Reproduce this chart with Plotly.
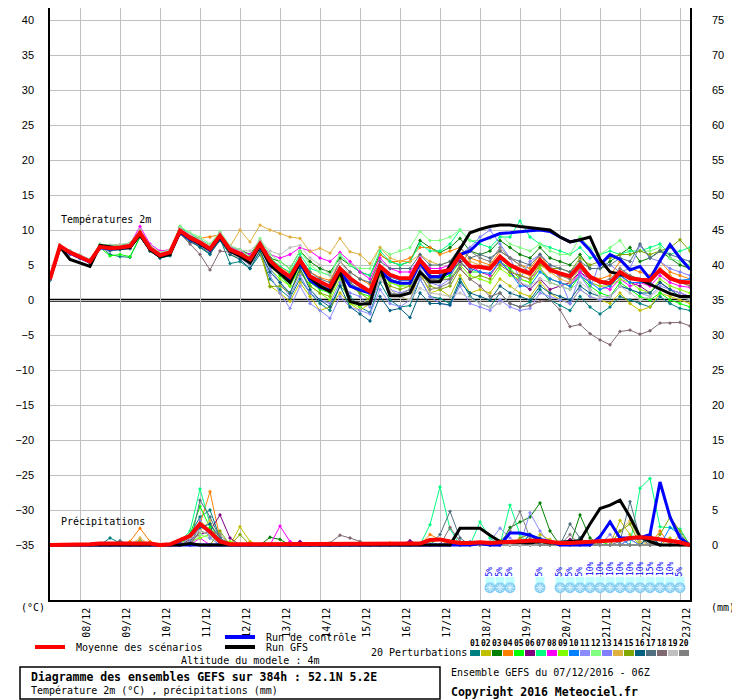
import plotly.graph_objects as go

MONO = "DejaVu Sans Mono"
SANS = "Liberation Sans"

# forecast steps (hours after 07/12/2016 06Z), 6-hourly out to 384h
HOURS = list(range(0, 385, 6))
DAY_TICKS = list(range(18, 384, 24))
DAY_LABELS = ["08/12", "09/12", "10/12", "11/12", "12/12", "13/12", "14/12", "15/12",
              "16/12", "17/12", "18/12", "19/12", "20/12", "21/12", "22/12", "23/12"]

# --- 2m temperature (degC) ---
MEAN_T = [3.0, 7.7, 6.8, 6.2, 5.5, 7.6, 7.4, 7.5, 7.7, 9.6,
          7.4, 6.4, 6.8, 9.9, 8.9, 8.2, 7.3, 9.2, 7.2, 6.6,
          5.8, 8.0, 5.6, 4.3, 3.3, 5.7, 3.4, 2.6, 1.9, 4.5,
          3.1, 2.1, 1.2, 4.8, 3.6, 3.1, 3.1, 5.7, 4.0, 4.0,
          4.3, 6.4, 4.8, 4.7, 4.5, 6.2, 5.0, 4.3, 3.8, 5.7,
          4.3, 3.8, 3.4, 5.0, 3.3, 2.6, 2.4, 4.0, 3.1, 2.9,
          2.8, 4.3, 3.1, 2.6, 2.5]
GFS_T = [3.0, 7.6, 5.8, 5.3, 4.8, 7.8, 7.6, 7.4, 7.5, 9.3,
         7.2, 6.2, 6.5, 9.8, 8.8, 8.0, 7.2, 9.0, 7.0, 6.3,
         5.3, 7.8, 5.0, 3.8, 2.5, 5.5, 3.2, 2.0, 1.2, 4.0,
         -0.2, -0.6, -0.5, 4.6, 0.6, 0.6, 1.0, 4.0, 2.6, 2.6,
         5.0, 7.4, 9.6, 10.1, 10.5, 10.7, 10.7, 10.5, 10.3, 10.2,
         10.0, 9.0, 8.3, 8.6, 9.0, 5.8, 4.0, 3.7, 3.2, 2.9,
         2.2, 1.5, 0.9, 0.5, 0.5]
CTRL_T = [3.0, 7.6, 6.7, 6.1, 5.4, 7.5, 7.3, 7.4, 7.6, 9.4,
          7.3, 6.3, 6.7, 9.7, 8.7, 8.0, 7.1, 9.0, 7.0, 6.4,
          5.5, 7.8, 5.2, 3.9, 2.8, 5.3, 2.8, 1.8, 1.4, 4.2,
          2.0, 1.4, 1.0, 4.3, 2.8, 2.4, 2.4, 5.3, 3.3, 3.3,
          4.0, 6.5, 7.0, 8.4, 8.9, 9.5, 9.6, 9.8, 9.9, 10.0,
          9.8, 9.0, 8.3, 8.6, 7.1, 5.0, 6.5, 5.8, 4.3, 4.8,
          3.0, 5.6, 7.9, 6.0, 4.4]

P01_T = [2.8, 7.5, 6.6, 6.0, 5.4, 7.8, 6.5, 6.2, 6.1, 9.0, 7.0, 6.0, 6.3, 9.5, 8.5, 7.5, 6.5, 8.8, 5.2, 5.5,
         4.5, 6.5, 3.0, 1.5, 0.3, 3.0, 1.0, -0.5, -1.5, 2.0, 0.5, -1.0, -1.8, 2.5, 0.0, -1.0, -0.8, 3.0, 0.5, 0.2,
         -0.5, 3.0, 0.5, -0.5, -1.0, 1.0, -0.5, -1.0, -0.3, 1.5, 0.0, -0.8, -1.5, 0.5, -1.0, -2.0, -1.0, 0.5, 0.0, -0.5,
         -1.0, 0.5, -0.5, -1.2, -1.5]
P02_T = [3.0, 7.6, 6.7, 6.0, 5.3, 7.3, 7.0, 7.2, 7.3, 9.2, 7.0, 6.1, 6.5, 9.5, 8.4, 7.6, 6.8, 8.6, 6.5, 6.0,
         5.0, 6.8, 2.0, 1.0, -0.2, 2.5, 0.5, -1.5, -1.0, 1.0, -0.5, -1.5, -0.5, 3.0, 1.5, 0.5, 0.0, 4.0, 1.0, 1.5,
         0.5, 3.5, 1.0, 1.5, 1.0, 3.0, 2.0, 1.0, 0.5, 2.5, 1.0, 0.0, -0.5, 1.5, 0.5, 0.0, -0.5, 1.0, -0.5, -1.5,
         -1.0, 1.0, 0.5, 0.0, -0.5]
P03_T = [3.1, 7.8, 7.0, 6.4, 5.8, 7.9, 7.8, 7.9, 8.0, 9.8, 7.6, 6.7, 7.0, 10.5, 9.2, 8.6, 7.8, 9.5, 7.6, 7.2,
         6.5, 8.5, 6.0, 5.5, 4.5, 7.0, 5.5, 4.5, 4.0, 6.0, 5.0, 4.0, 3.5, 6.5, 5.5, 5.0, 5.5, 8.5, 7.5, 6.8,
         7.5, 8.8, 7.0, 6.5, 7.0, 8.5, 7.5, 6.5, 6.0, 7.5, 6.0, 5.5, 5.0, 6.5, 4.5, 4.5, 5.5, 6.5, 7.5, 5.5,
         6.0, 7.0, 6.0, 5.0, 4.5]
P04_T = [3.0, 7.7, 6.9, 6.3, 5.6, 7.7, 7.6, 7.7, 7.8, 9.7, 7.5, 6.5, 6.9, 10.0, 9.3, 8.8, 9.0, 9.3, 7.5, 6.8,
         6.0, 8.3, 6.0, 4.8, 3.8, 6.0, 4.0, 3.2, 2.8, 5.5, 4.0, 3.0, 2.2, 6.5, 5.5, 5.5, 6.0, 7.5, 7.5, 6.5,
         7.0, 7.5, 6.0, 5.5, 5.0, 7.0, 6.0, 5.0, 4.5, 6.5, 4.5, 3.5, 3.0, 5.5, 3.5, 3.0, 3.5, 5.5, 4.5, 4.0,
         3.5, 5.5, 4.0, 3.5, 3.0]
P05_T = [3.0, 7.6, 6.7, 6.1, 5.5, 7.5, 6.3, 6.5, 6.2, 9.0, 7.2, 6.3, 6.8, 10.2, 9.1, 8.3, 7.5, 9.4, 7.3, 6.7,
         5.5, 7.5, 5.0, 3.5, 2.0, 5.0, 2.5, 1.5, 1.0, 4.0, 2.5, 1.0, 0.5, 4.5, 2.5, 2.0, 2.5, 5.5, 3.5, 3.0,
         3.5, 5.5, 4.0, 4.0, 3.5, 5.5, 4.5, 3.0, 2.5, 4.5, 2.5, 2.0, 1.5, 3.5, 2.0, 1.0, 0.5, 2.5, 1.5, 0.5,
         0.0, 1.0, 0.0, -0.5, -1.0]
P06_T = [3.0, 7.7, 6.8, 6.2, 5.5, 7.6, 7.4, 7.6, 7.8, 9.6, 7.4, 6.4, 6.8, 9.8, 8.8, 8.1, 7.2, 9.0, 7.0, 6.5,
         5.5, 7.8, 5.5, 4.0, 3.0, 5.5, 3.0, 2.0, 1.5, 4.5, 3.0, 2.0, 1.0, 4.5, 3.5, 3.0, 3.0, 5.5, 3.5, 3.5,
         4.0, 5.5, 4.0, 5.0, 4.5, 5.5, 4.0, 2.5, 1.5, 3.0, 1.5, 2.0, 2.5, 4.0, 3.0, 2.5, 2.0, 3.5, 2.5, 2.0,
         1.0, 2.5, 1.5, 1.0, 0.5]
P07_T = [3.0, 7.8, 7.0, 6.4, 5.7, 7.9, 7.7, 7.8, 8.0, 9.9, 7.6, 6.6, 7.0, 10.4, 9.5, 8.7, 7.8, 9.6, 7.6, 7.0,
         6.0, 8.5, 6.0, 4.8, 4.0, 6.5, 4.5, 4.0, 3.5, 6.5, 5.0, 4.0, 3.5, 7.0, 5.5, 5.0, 5.5, 8.0, 7.0, 7.0,
         8.0, 10.0, 8.5, 8.0, 7.5, 9.0, 9.0, 11.3, 9.0, 8.0, 7.5, 7.0, 6.5, 7.5, 6.0, 6.5, 7.0, 6.5, 7.0, 7.0,
         7.5, 8.0, 6.5, 7.0, 7.5]
P08_T = [3.0, 7.8, 6.9, 6.3, 5.6, 7.8, 7.5, 7.6, 8.0, 10.5, 8.0, 7.0, 7.2, 10.3, 9.2, 8.3, 7.4, 9.0, 7.5, 6.9,
         6.5, 8.0, 6.5, 6.0, 6.5, 7.5, 7.0, 6.0, 5.5, 6.8, 5.5, 4.0, 3.0, 6.0, 4.5, 4.0, 4.0, 6.0, 4.5, 4.5,
         5.0, 6.5, 5.0, 4.0, 3.5, 5.5, 4.0, 3.5, 3.0, 4.5, 3.0, 2.5, 2.0, 4.0, 2.5, 2.0, 1.5, 3.0, 2.0, 2.5,
         2.0, 3.5, 2.5, 2.0, 1.8]
P09_T = [3.0, 7.6, 6.7, 6.1, 5.5, 7.5, 7.2, 7.3, 7.5, 9.4, 7.3, 6.3, 6.7, 9.7, 8.8, 8.0, 7.1, 9.0, 7.0, 6.3,
         5.0, 7.5, 4.5, 3.0, 2.0, 4.5, 2.0, 1.0, 0.0, 3.0, -0.5, -1.0, 0.5, 3.5, 2.5, 2.0, 2.0, 5.0, 3.0, 3.0,
         3.0, 5.0, 3.5, 3.0, 2.5, 4.5, 3.5, 3.0, 2.5, 4.5, 3.0, 2.5, 2.0, 3.5, 2.5, 2.0, 2.0, 3.0, 2.5, 1.5,
         1.0, 3.0, 2.0, 1.5, 1.0]
P10_T = [3.0, 7.7, 6.8, 6.2, 5.5, 7.6, 7.3, 7.4, 7.6, 9.5, 7.3, 6.3, 6.7, 9.8, 8.8, 8.1, 7.2, 9.1, 7.1, 6.5,
         5.7, 7.8, 5.3, 4.0, 3.0, 5.5, 3.2, 2.3, 1.5, 4.2, 2.8, 1.8, 1.0, 4.5, 3.3, 2.8, 2.8, 5.5, 3.8, 3.8,
         4.0, 6.0, 4.5, 4.0, 3.8, 5.5, 4.0, 2.0, 2.0, 4.0, 3.0, 2.5, 2.0, 3.5, 2.5, 1.5, 2.0, 3.5, 2.5, 2.5,
         2.5, 4.0, 3.0, 2.8, 3.0]
P11_T = [2.9, 7.5, 6.5, 5.9, 5.3, 7.3, 7.0, 7.2, 7.3, 9.2, 7.1, 6.2, 6.5, 9.5, 8.5, 7.8, 6.9, 8.8, 6.8, 6.0,
         5.0, 7.0, 3.5, 1.0, -1.2, 2.0, -0.5, -1.5, -2.6, 0.5, -1.0, -1.5, -2.0, 1.5, -0.5, -1.0, 0.0, 3.0, 0.5, -0.5,
         -0.8, 2.0, -0.5, -1.0, -1.5, 0.0, -1.0, -1.5, -1.2, 1.0, 0.5, 0.0, -0.5, 1.5, 0.5, 0.0, 0.5, 2.0, 1.5, 1.0,
         0.5, 2.0, 1.5, 1.0, 0.5]
P12_T = [3.0, 7.8, 7.0, 6.4, 5.8, 8.0, 7.8, 7.9, 8.2, 10.0, 7.8, 6.8, 7.2, 10.5, 9.6, 9.0, 8.0, 9.8, 7.8, 7.2,
         6.2, 8.8, 6.5, 5.5, 4.5, 7.0, 5.0, 4.0, 3.5, 6.5, 5.0, 4.5, 4.5, 7.5, 6.5, 7.0, 7.5, 9.8, 8.5, 8.5,
         9.0, 10.0, 8.5, 8.5, 8.8, 9.5, 8.0, 7.5, 7.0, 8.0, 7.0, 6.5, 6.5, 9.0, 7.5, 6.5, 7.5, 8.5, 6.5, 7.0,
         7.0, 7.5, 6.0, 5.5, 5.0]
P13_T = [3.0, 7.6, 6.8, 6.2, 5.5, 7.6, 7.4, 7.5, 7.7, 9.5, 7.4, 6.4, 6.8, 9.9, 8.9, 8.2, 7.3, 9.2, 7.2, 6.6,
         5.5, 7.5, 4.5, 2.5, 0.5, 3.5, 1.0, 0.0, -0.5, 2.5, 1.0, 0.5, -1.0, 3.0, 1.5, 1.0, 1.5, 4.5, 2.5, 2.0,
         3.0, 6.5, 7.5, 9.0, 10.0, 8.0, 6.0, 3.0, 5.5, 6.5, 5.0, 3.0, -0.5, 3.5, 1.5, 5.5, 5.0, 4.0, 4.5, 7.8,
         6.0, 5.5, 4.5, 4.0, 3.5]
P14_T = [3.0, 7.7, 6.8, 6.3, 5.6, 7.7, 7.6, 7.7, 7.9, 9.7, 7.5, 6.6, 7.0, 10.0, 9.0, 8.5, 7.6, 9.3, 7.6, 10.0,
         8.3, 10.7, 10.0, 9.5, 9.0, 8.8, 6.9, 7.4, 6.7, 8.8, 6.9, 6.5, 5.2, 7.5, 6.0, 5.5, 5.5, 6.5, 5.5, 5.0,
         5.5, 7.5, 5.5, 5.0, 4.5, 6.0, 5.0, 4.0, 3.5, 5.0, 4.0, 3.0, 2.5, 4.5, 3.0, 2.5, 2.5, 4.5, 3.5, 3.0,
         3.0, 4.5, 3.5, 2.5, 2.0]
P15_T = [3.0, 7.6, 6.7, 6.1, 5.4, 7.5, 7.3, 7.4, 7.6, 9.4, 7.2, 6.2, 6.6, 9.7, 8.7, 8.0, 7.1, 9.0, 7.0, 6.4,
         5.3, 7.5, 1.9, 2.0, 1.0, 4.0, 2.0, 1.0, 0.5, 3.5, 2.0, 1.0, 0.0, 3.5, 2.0, 1.5, 2.0, 4.0, 2.0, 1.5,
         2.0, 4.5, 3.0, 3.5, 3.0, 5.0, 4.0, 3.5, 3.0, 5.0, 4.5, 4.5, 4.0, 6.0, 5.0, 5.5, 6.0, 6.5, 6.5, 7.0,
         6.5, 7.0, 7.5, 8.6, 7.0]
P16_T = [2.9, 7.5, 6.6, 6.0, 5.3, 7.4, 7.1, 7.2, 7.4, 9.2, 7.0, 6.0, 6.4, 9.4, 8.3, 7.6, 6.6, 8.5, 6.5, 5.8,
         4.5, 7.0, 4.0, 2.5, 1.0, 4.5, 1.5, 0.0, -1.0, 2.0, -1.0, -2.0, -3.0, 0.5, -1.5, -1.2, -2.5, 1.0, -0.5, -0.5,
         -0.7, 2.5, 1.0, 0.5, 0.0, 2.0, 1.0, 0.5, 0.0, 2.0, 1.0, 0.5, 0.0, 2.0, 1.0, 0.5, 0.5, 2.0, 1.5, 1.0,
         1.0, 2.5, 1.5, 0.5, 0.0]
P17_T = [3.0, 7.7, 6.9, 6.3, 5.6, 7.7, 7.5, 7.6, 7.8, 9.7, 7.5, 6.5, 6.9, 10.0, 9.0, 8.3, 7.4, 9.3, 7.3, 6.7,
         6.0, 8.2, 6.0, 4.5, 3.5, 6.0, 4.0, 3.0, 2.5, 5.5, 4.0, 3.0, 2.5, 5.5, 4.5, 4.5, 4.5, 6.5, 5.0, 5.0,
         5.5, 7.5, 6.0, 6.5, 6.0, 7.0, 6.0, 5.5, 5.0, 6.5, 5.0, 4.5, 4.0, 5.5, 4.5, 4.5, 5.0, 6.0, 5.5, 8.0,
         6.0, 7.0, 6.5, 6.0, 5.5]
P18_T = [3.0, 7.6, 6.8, 6.2, 5.5, 7.5, 7.3, 7.4, 7.6, 9.3, 7.2, 6.2, 6.6, 9.5, 8.0, 6.5, 4.3, 7.0, 6.8, 6.2,
         5.5, 7.5, 5.0, 3.8, 2.8, 5.0, 3.0, 2.0, 1.5, 4.0, 2.5, 1.5, 0.8, 4.0, 3.0, 2.5, 2.5, 5.0, 3.0, 2.8,
         3.0, 4.5, 3.0, 2.0, 0.5, 1.0, -0.5, -1.0, -0.8, -0.2, 0.0, -1.4, -3.8, -3.5, -4.8, -5.7, -6.4, -4.5, -4.3, -4.9,
         -4.4, -3.3, -3.3, -3.2, -3.7]
P19_T = [3.1, 7.8, 7.0, 6.5, 5.8, 7.9, 7.8, 7.9, 8.1, 9.9, 7.7, 6.7, 7.1, 10.2, 9.4, 8.7, 7.8, 9.6, 7.7, 7.1,
         7.0, 8.5, 7.0, 6.5, 7.5, 7.8, 6.0, 5.0, 3.5, 5.5, 3.5, 2.0, 1.0, 3.0, 1.5, 0.5, 0.0, 1.7, 1.0, 0.8,
         0.5, 1.0, 0.3, -0.5, -1.0, -0.5, 0.5, 2.5, 2.0, 3.0, 2.5, 2.0, 1.5, 2.5, 1.5, 0.5, 0.5, 2.0, 1.0, 0.0,
         0.5, 1.5, 1.0, 0.5, 0.0]
P20_T = [3.0, 7.7, 6.8, 6.2, 5.5, 7.6, 7.4, 7.5, 7.7, 9.6, 7.4, 6.4, 6.8, 9.9, 8.9, 8.2, 7.3, 9.2, 7.2, 6.6,
         5.8, 8.0, 5.6, 4.3, 3.3, 5.7, 3.4, 2.6, 1.9, 4.5, 3.1, 2.1, 1.2, 4.8, 1.0, 0.8, 1.5, 3.5, 1.5, 1.8,
         2.5, 5.0, 7.0, 6.0, 5.5, 7.5, 6.0, 5.0, 4.0, 6.0, 4.5, 3.5, 3.0, 4.5, 3.0, 2.5, 3.0, 4.5, 3.5, 3.0,
         3.0, 4.0, 3.0, 2.5, 2.0]

# --- precipitation (mm), mean as full series, runs as {step index: mm} (0 elsewhere) ---
MEAN_P = [0.0, 0.0, 0.0, 0.0, 0.1, 0.2, 0.2, 0.3, 0.3, 0.3,
          0.2, 0.0, 0.1, 0.7, 1.3, 3.0, 1.9, 0.5, 0.1, 0.1,
          0.1, 0.1, 0.2, 0.2, 0.1, 0.1, 0.1, 0.1, 0.1, 0.1,
          0.1, 0.1, 0.1, 0.1, 0.1, 0.1, 0.2, 0.2, 0.7, 0.8,
          0.5, 0.3, 0.3, 0.4, 0.3, 0.4, 0.5, 0.6, 0.6, 0.6,
          0.4, 0.3, 0.3, 0.4, 0.4, 0.6, 0.6, 0.7, 1.0, 1.1,
          1.0, 0.8, 0.7, 0.4, 0.0]
GFS_P = {14: 0.2, 41: 2.4, 42: 2.4, 43: 2.4, 44: 1.4, 45: 0.5, 46: 0.4, 47: 0.3, 48: 0.3, 49: 0.5,
         50: 0.3, 51: 0.4, 52: 0.5, 53: 0.6, 54: 3.0, 55: 5.2, 56: 5.7, 57: 6.4, 58: 4.0, 59: 1.2, 60: 0.5}
CTRL_P = {43: 0.2, 46: 1.7, 47: 1.7, 48: 1.4, 49: 0.8, 50: 0.5, 55: 1.2, 56: 3.3, 57: 1.0, 58: 1.0,
          59: 1.0, 60: 1.5, 61: 9.0, 62: 4.0, 63: 1.0}
P01_P = {6: 1.0, 7: 0.3, 9: 0.6, 13: 0.5, 14: 1.5, 15: 4.0, 16: 5.0, 17: 1.0, 45: 0.5, 48: 1.5, 49: 1.0, 58: 0.8, 60: 1.0}
P02_P = {8: 0.2, 9: 0.5, 14: 0.8, 15: 3.5, 16: 2.0, 19: 2.6, 20: 0.5, 49: 1.5, 50: 0.8, 57: 3.5, 58: 1.5, 62: 1.0}
P03_P = {14: 1.0, 15: 2.0, 16: 1.5, 22: 1.1, 23: 0.8, 46: 2.5, 47: 3.3, 48: 4.0, 49: 6.0, 50: 2.0, 53: 4.3, 54: 1.0, 60: 1.5}
P04_P = {8: 0.5, 9: 2.4, 10: 0.5, 14: 1.2, 15: 3.0, 16: 7.6, 17: 1.0, 20: 0.3, 34: 0.3, 38: 1.5, 39: 0.8, 48: 0.8, 61: 2.0, 63: 1.5}
P05_P = {14: 1.5, 15: 5.5, 16: 2.5, 17: 0.5, 42: 0.3, 55: 0.5}
P06_P = {14: 0.8, 15: 1.5, 16: 2.0, 17: 4.3, 18: 1.0, 25: 0.5, 36: 0.6, 52: 0.8}
P07_P = {13: 0.5, 14: 2.0, 15: 8.0, 16: 3.0, 17: 0.5, 38: 2.9, 39: 8.3, 40: 2.3, 43: 3.3, 44: 1.0, 46: 5.7, 47: 1.5,
         59: 8.1, 60: 9.5, 61: 2.6, 62: 2.5, 63: 2.3}
P08_P = {13: 0.3, 15: 1.0, 23: 2.7, 24: 0.5}
P09_P = {14: 0.5, 15: 1.0, 16: 1.5, 18: 0.5, 45: 0.6, 53: 0.5}
P10_P = {14: 1.0, 15: 3.0, 16: 2.0, 17: 0.5, 45: 0.3, 55: 1.0, 56: 3.3, 57: 1.0, 60: 1.2, 62: 2.5, 63: 1.5}
P11_P = {15: 2.5, 16: 2.0, 44: 0.5, 45: 2.4, 46: 1.0, 48: 4.6, 49: 2.0}
P12_P = {15: 1.5, 16: 1.0, 38: 0.5, 40: 0.5, 50: 0.5}
P13_P = {14: 0.5, 15: 3.5, 16: 1.0, 42: 0.5, 56: 1.5, 58: 0.8}
P14_P = {9: 1.0, 15: 2.0, 16: 3.5, 40: 0.5, 57: 2.0, 58: 3.5, 59: 0.5}
P15_P = {17: 2.0, 19: 1.5, 47: 1.0, 48: 1.5, 57: 2.0, 58: 3.0, 61: 1.5, 62: 4.0, 63: 2.0}
P16_P = {13: 0.5, 14: 1.0, 15: 2.5, 16: 3.0, 17: 1.0, 48: 1.5, 53: 1.0, 60: 1.5}
P17_P = {7: 0.6, 15: 6.4, 16: 4.0, 17: 1.0, 39: 1.5, 40: 4.8, 41: 1.0, 52: 3.0, 53: 1.0, 57: 0.5, 58: 6.2, 59: 1.0}
P18_P = {15: 2.0, 16: 1.5, 28: 0.3, 29: 1.4, 30: 1.0, 31: 0.5, 40: 2.5, 41: 0.5}
P19_P = {14: 1.0, 15: 2.0, 16: 1.5, 44: 0.5}
P20_P = {15: 3.0, 16: 2.0, 17: 1.5, 45: 0.5, 46: 2.0, 47: 4.8, 48: 1.0, 52: 1.5}

PERT_COLORS = ["#008080", "#c0c000", "#008000", "#ff8000", "#00ff00", "#800080", "#00ff80",
               "#ff00ff", "#80ff00", "#0080ff", "#8c8cff", "#80ff80", "#7f7fff", "#e0b040",
               "#80a800", "#006080", "#507080", "#806870", "#c0c0c0", "#808080"]

# snow probability flags
SNOW_HOURS = [264, 270, 276, 294, 306, 312, 318, 324, 330, 336, 342, 348, 354, 360, 366, 372, 378]
SNOW_PCT = [5, 5, 5, 5, 5, 5, 5, 10, 10, 10, 10, 10, 10, 15, 10, 10, 5]

PERT_T = [P01_T, P02_T, P03_T, P04_T, P05_T, P06_T, P07_T, P08_T, P09_T, P10_T,
          P11_T, P12_T, P13_T, P14_T, P15_T, P16_T, P17_T, P18_T, P19_T, P20_T]
PERT_P = [P01_P, P02_P, P03_P, P04_P, P05_P, P06_P, P07_P, P08_P, P09_P, P10_P,
          P11_P, P12_P, P13_P, P14_P, P15_P, P16_P, P17_P, P18_P, P19_P, P20_P]


def expand(sparse):
    return [sparse.get(k, 0.0) for k in range(len(HOURS))]


# the page body adds an 8px margin, so the figure is 732x692 and the plot area
# covers screen pixels x 50..690, y 8..600
def px(x, y):
    return (x - 50) / 640, (600 - y) / 592


Y_TOP = 292 / 7
Y_BOT = -300 / 7
SNOW_ROW = -6.1

fig = go.Figure()

for col, temps, rain in zip(PERT_COLORS, PERT_T, PERT_P):
    fig.add_trace(go.Scatter(x=HOURS, y=temps, mode="lines+markers",
                             line=dict(color=col, width=1), marker=dict(color=col, size=3, symbol="diamond")))
    fig.add_trace(go.Scatter(x=HOURS, y=expand(rain), yaxis="y2", mode="lines+markers",
                             line=dict(color=col, width=1), marker=dict(color=col, size=3, symbol="diamond")))

for series, axis in ((CTRL_T, "y"), (expand(CTRL_P), "y2")):
    fig.add_trace(go.Scatter(x=HOURS, y=series, yaxis=axis, mode="lines", line=dict(color="#0000ff", width=3)))
for series, axis in ((GFS_T, "y"), (expand(GFS_P), "y2")):
    fig.add_trace(go.Scatter(x=HOURS, y=series, yaxis=axis, mode="lines", line=dict(color="#000000", width=3)))
for series, axis in ((MEAN_T, "y"), (MEAN_P, "y2")):
    fig.add_trace(go.Scatter(x=HOURS, y=series, yaxis=axis, mode="lines", line=dict(color="#ff0000", width=4)))

# snow symbols: light cyan band, blue disc, pale flake
fig.add_trace(go.Scatter(x=SNOW_HOURS, y=[SNOW_ROW + 0.9] * len(SNOW_HOURS), yaxis="y2", mode="markers",
                         marker=dict(symbol="square", size=9, color="#c4ffff", line=dict(width=0))))
fig.add_trace(go.Scatter(x=SNOW_HOURS, y=[SNOW_ROW] * len(SNOW_HOURS), yaxis="y2", mode="markers",
                         marker=dict(symbol="circle", size=11, color="#86cdf2", line=dict(width=0))))
fig.add_trace(go.Scatter(x=SNOW_HOURS, y=[SNOW_ROW] * len(SNOW_HOURS), yaxis="y2", mode="markers",
                         marker=dict(symbol="asterisk-open", size=7, color="#e2f6ff",
                                     line=dict(color="#e2f6ff", width=1))))

annotations = []
for h, pct in zip(SNOW_HOURS, SNOW_PCT):
    annotations.append(dict(x=h, y=SNOW_ROW + 1.3, xref="x", yref="y2", text=f"{pct}%", showarrow=False,
                            textangle=-90, yanchor="bottom", xanchor="center",
                            font=dict(family=MONO, size=8, color="#0000ff")))


def label(text, x, y, size=10, bold=False, anchor="left"):
    xp, yp = px(x, y)
    annotations.append(dict(x=xp, y=yp, xref="paper", yref="paper", showarrow=False,
                            text=f"<b>{text}</b>" if bold else text, xanchor=anchor, yanchor="middle",
                            font=dict(family=MONO, size=size, color="black")))


label("Températures 2m", 59, 219)
label("Précipitations", 59, 521)
label("(°C)", 19, 607)
label("(mm)", 709, 607)
label("Moyenne des scénarios", 74, 647)
label("Run de contrôle", 264, 637)
label("Run GFS", 264, 647)
label("Altitude du modele : 4m", 179, 660)
label("20 Perturbations", 369, 652)
label("Diagramme des ensembles GEFS sur 384h : 52.1N 5.2E", 29, 677, size=11.5, bold=True)
label("Température 2m (°C) , précipitations (mm)", 29, 690)
label("Ensemble GEFS du 07/12/2016 - 06Z", 449, 672)
label("Copyright 2016 Meteociel.fr", 449, 692, size=11.5, bold=True)

shapes = []
for y0 in (0.1, -0.17):
    shapes.append(dict(type="line", xref="paper", yref="y", x0=0, x1=1, y0=y0, y1=y0,
                       line=dict(color="black", width=1.3), layer="between"))


def seg(x0, y0, x1, y1, color, width):
    a, b = px(x0, y0)
    c, d = px(x1, y1)
    shapes.append(dict(type="line", xref="paper", yref="paper", x0=a, y0=b, x1=c, y1=d,
                       line=dict(color=color, width=width)))


seg(35, 647, 65, 647, "#ff0000", 4)
seg(225, 637, 255, 637, "#0000ff", 4)
seg(225, 647, 255, 647, "#000000", 4)

# perturbation colour key
for i, col in enumerate(PERT_COLORS):
    a, b = px(470 + 11 * i, 650)
    c, d = px(480 + 11 * i, 656)
    shapes.append(dict(type="rect", xref="paper", yref="paper", x0=a, y0=b, x1=c, y1=d,
                       line=dict(width=0), fillcolor=col))
    label(f"{i + 1:02d}", 475 + 11 * i, 643, size=8, bold=True, anchor="center")

a, b = px(20, 667)
c, d = px(440, 699)
shapes.append(dict(type="rect", xref="paper", yref="paper", x0=a, y0=b, x1=c, y1=d,
                   line=dict(color="black", width=1.5), fillcolor="rgba(0,0,0,0)"))

fig.update_layout(
    width=732, height=692,
    margin=dict(l=42, r=50, t=0, b=100),
    paper_bgcolor="white", plot_bgcolor="white",
    showlegend=False, hovermode=False,
    xaxis=dict(range=[0, 384], tickvals=DAY_TICKS, ticktext=DAY_LABELS, tickangle=-90,
               showgrid=True, gridcolor="#c0c0c0", gridwidth=1, zeroline=False,
               showline=True, linecolor="black", linewidth=1.5, ticks="",
               ticklabelshift=7, ticklabelstandoff=2,
               tickfont=dict(family=MONO, size=10, color="black")),
    yaxis=dict(range=[Y_BOT, Y_TOP], tickvals=list(range(-35, 41, 5)),
               showgrid=True, gridcolor="#c0c0c0", gridwidth=1, zeroline=False,
               showline=True, linecolor="black", linewidth=1.5, ticks="", ticklabelstandoff=12,
               tickfont=dict(family=SANS, size=11, color="black")),
    yaxis2=dict(range=[Y_BOT + 35, Y_TOP + 35], tickvals=list(range(0, 76, 5)), overlaying="y", side="right",
                showgrid=False, zeroline=False, showline=True, linecolor="black", linewidth=1.5,
                ticks="", ticklabelstandoff=18, tickfont=dict(family=SANS, size=11, color="black")),
    annotations=annotations,
    shapes=shapes,
)

fig.write_html("out.html")
